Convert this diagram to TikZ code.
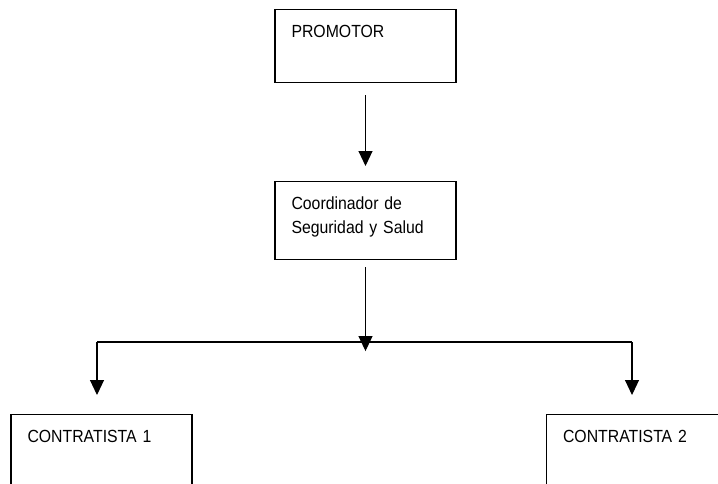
\documentclass[tikz,border=0pt]{standalone}
\usepackage{fontspec}
\setmainfont[FakeStretch=0.9]{Liberation Sans}
\usepackage{tikz}
\usetikzlibrary{arrows.meta, positioning, calc}
\tikzstyle{block} = [rectangle, draw=black, line width=0.6pt, inner xsep=0.33cm, inner ysep=0pt, text width=2.96cm, align=left, text height=0.56cm, font=\fontsize{10}{13.6}\selectfont]
\tikzstyle{arrow} = [line width=0.6pt, -{Triangle[length=0.3cm, width=0.28cm]}]

\begin{document}
\begin{tikzpicture}[every node/.style={anchor=north}]
  \clip (0,0) rectangle (14.36,-9.66);
  \node[block, text depth=0.9cm] (promotor) at (7.31,-0.18) {PROMOTOR};
  \node[block, text depth=1.0cm] (coord) at (7.31,-3.62) {Coordinador de\\Seguridad y Salud};
  \node[block, text depth=1.5cm] (contr1) at (2.03,-8.28) {CONTRATISTA 1};
  \node[block, text depth=1.5cm, anchor=north west] (contr2) at (10.92,-8.28) {CONTRATISTA 2};

  \coordinate (hub) at ([yshift=-1.82cm]coord.south);
  \coordinate (left) at (1.94,-6.84);
  \coordinate (right) at (12.64,-6.84);

  \draw[arrow] ([yshift=-0.24cm]promotor.south) -- ([yshift=0.3cm]coord.north);
  \draw[arrow] ([yshift=-0.14cm]coord.south) -- (hub);
  \draw[line width=0.6pt] (left) -- (right);
  \draw[arrow, shorten >=0.38cm] (left) -- (left |- contr1.north);
  \draw[arrow, shorten >=0.38cm] (right) -- (right |- contr2.north);
\end{tikzpicture}
\end{document}
